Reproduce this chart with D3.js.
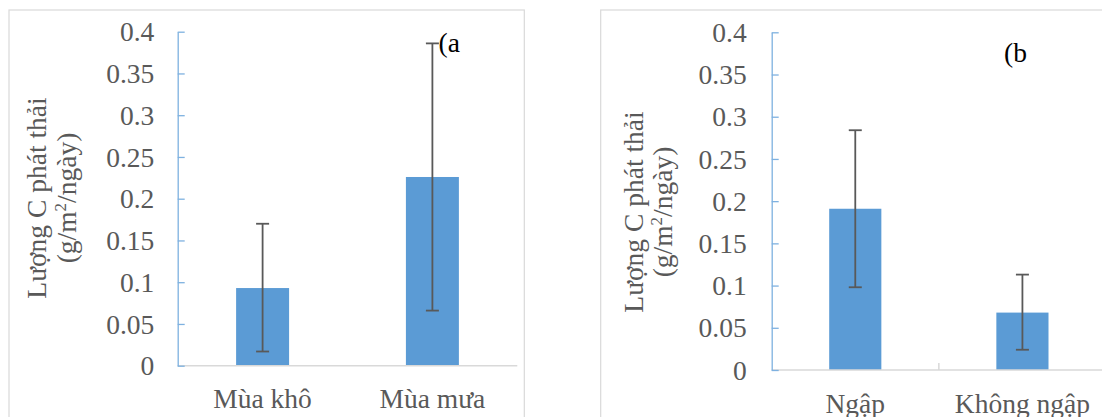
<!DOCTYPE html>
<html>
<head>
<meta charset="utf-8">
<script src="https://cdn.jsdelivr.net/npm/d3@7"></script>
<style>
  html, body { margin: 0; padding: 0; background: #fff; }
  svg { display: block; }
</style>
</head>
<body>
<svg id="chart" width="1102" height="417"></svg>
<script>
// values
var yTickValues = [0, 0.05, 0.1, 0.15, 0.2, 0.25, 0.3, 0.35, 0.4];
var yTickLabels = ["0", "0.05", "0.1", "0.15", "0.2", "0.25", "0.3", "0.35", "0.4"];

var seasonCategories = ["Mùa khô", "Mùa mưa"];
var seasonValues = [0.093, 0.226];
var seasonErrLow = [0.017, 0.066];
var seasonErrHigh = [0.170, 0.386];

var floodCategories = ["Ngập", "Không ngập"];
var floodValues = [0.191, 0.068];
var floodErrLow = [0.098, 0.024];
var floodErrHigh = [0.284, 0.113];

var titleLine1 = "Lượng C phát thải";

var FONT = "'Liberation Serif', 'Times New Roman', serif";
var GREY_TEXT = "#595959";

var svg = d3.select("#chart");

function drawPanel(opt) {
  var g = svg.append("g");

  // chart frame
  g.append("rect")
    .attr("x", opt.frame[0]).attr("y", opt.frame[1])
    .attr("width", opt.frame[2]).attr("height", opt.frame[3])
    .attr("fill", "#fff")
    .attr("stroke", "#d9d9d9")
    .attr("stroke-width", 1.2);

  var x = d3.scaleBand()
    .domain(opt.categories)
    .range([opt.x0, opt.x1])
    .paddingInner(0.688)
    .paddingOuter(0.344);

  var y = d3.scaleLinear()
    .domain([0, 0.4])
    .range([opt.yBottom, opt.yTop]);

  var rows = opt.categories.map(function(c, i) {
    return {cat: c, v: opt.values[i], lo: opt.errLow[i], hi: opt.errHigh[i]};
  });

  // bars
  g.selectAll("rect.bar").data(rows).enter()
    .append("rect")
    .attr("class", "bar")
    .attr("x", function(d) { return x(d.cat); })
    .attr("width", x.bandwidth())
    .attr("y", function(d) { return y(d.v); })
    .attr("height", function(d) { return y(0) - y(d.v); })
    .attr("fill", "#5b9bd5");

  // x axis line
  g.append("line")
    .attr("x1", opt.x0).attr("x2", opt.x1)
    .attr("y1", y(0)).attr("y2", y(0))
    .attr("stroke", "#d9d9d9")
    .attr("stroke-width", 1.5);

  if(opt.separator) {
    for(var i = 1; i < opt.categories.length; i++) {
      var bx = (x(opt.categories[i - 1]) + x.bandwidth() + x(opt.categories[i])) / 2;
      g.append("line")
        .attr("x1", bx).attr("x2", bx)
        .attr("y1", y(0) - 7).attr("y2", y(0))
        .attr("stroke", "#d9d9d9")
        .attr("stroke-width", 1.5);
    }
  }

  // y axis, ticks pointing inwards
  var yAxis = d3.axisLeft(y)
    .tickValues(yTickValues)
    .tickFormat(function(d, i) { return yTickLabels[i]; })
    .tickSizeInner(-7)
    .tickSizeOuter(0)
    .tickPadding(opt.labelGap);

  var ya = g.append("g")
    .attr("transform", "translate(" + opt.x0 + ",0)")
    .call(yAxis);
  ya.select(".domain").attr("stroke", "#7eb1e0").attr("stroke-width", 1.3);
  ya.selectAll(".tick line").attr("stroke", "#7eb1e0").attr("stroke-width", 1.3);
  ya.selectAll(".tick text")
    .attr("fill", GREY_TEXT)
    .attr("font-family", FONT)
    .attr("font-size", "27.5px")
    .attr("dy", "0.33em");

  // error bars
  var eb = g.selectAll("g.err").data(rows).enter()
    .append("g")
    .attr("class", "err")
    .attr("stroke", "#595959")
    .attr("stroke-width", 1.8);
  var cx = function(d) { return x(d.cat) + x.bandwidth() / 2; };
  eb.append("line")
    .attr("x1", cx).attr("x2", cx)
    .attr("y1", function(d) { return y(d.lo); })
    .attr("y2", function(d) { return y(d.hi); });
  eb.append("line")
    .attr("x1", function(d) { return cx(d) - 6.5; })
    .attr("x2", function(d) { return cx(d) + 6.5; })
    .attr("y1", function(d) { return y(d.hi); })
    .attr("y2", function(d) { return y(d.hi); });
  eb.append("line")
    .attr("x1", function(d) { return cx(d) - 6.5; })
    .attr("x2", function(d) { return cx(d) + 6.5; })
    .attr("y1", function(d) { return y(d.lo); })
    .attr("y2", function(d) { return y(d.lo); });

  // category labels
  g.selectAll("text.cat").data(rows).enter()
    .append("text")
    .attr("class", "cat")
    .attr("x", cx)
    .attr("y", opt.catBaseline)
    .attr("text-anchor", "middle")
    .attr("fill", GREY_TEXT)
    .attr("font-family", FONT)
    .attr("font-size", "27.5px")
    .text(function(d) { return d.cat; });

  // y title, two lines
  g.append("text")
    .attr("transform", "translate(" + opt.titleX[0] + "," + opt.titleY + ") rotate(-90)")
    .attr("text-anchor", "middle")
    .attr("fill", GREY_TEXT)
    .attr("font-family", FONT)
    .attr("font-size", "27.5px")
    .text(titleLine1);

  var t2 = g.append("text")
    .attr("transform", "translate(" + opt.titleX[1] + "," + opt.titleY + ") rotate(-90)")
    .attr("text-anchor", "middle")
    .attr("fill", GREY_TEXT)
    .attr("font-family", FONT)
    .attr("font-size", "27.5px");
  t2.append("tspan").text("(g/m");
  t2.append("tspan").attr("font-size", "17px").attr("dy", -10).text("2");
  t2.append("tspan").attr("dy", 10).text("/ngày)");

  // panel tag
  g.append("text")
    .attr("x", opt.tag[0]).attr("y", opt.tag[1])
    .attr("fill", "#000")
    .attr("font-family", FONT)
    .attr("font-size", "27.5px")
    .text(opt.tag[2]);
}

drawPanel({
  categories: seasonCategories, values: seasonValues,
  errLow: seasonErrLow, errHigh: seasonErrHigh,
  frame: [9, 10, 515.3, 430],
  x0: 177.7, x1: 517.3, yTop: 31.7, yBottom: 365.7,
  labelGap: 23.4, catBaseline: 408,
  titleX: [46, 75.6], titleY: 198,
  tag: [438.5, 51.7, "(a"],
  separator: false
});

drawPanel({
  categories: floodCategories, values: floodValues,
  errLow: floodErrLow, errHigh: floodErrHigh,
  frame: [600.7, 10, 540, 430],
  x0: 771.7, x1: 1106, yTop: 32.3, yBottom: 370,
  labelGap: 25, catBaseline: 413,
  titleX: [643, 672.3], titleY: 212,
  tag: [1004, 61.7, "(b"],
  separator: true
});
</script>
</body>
</html>
